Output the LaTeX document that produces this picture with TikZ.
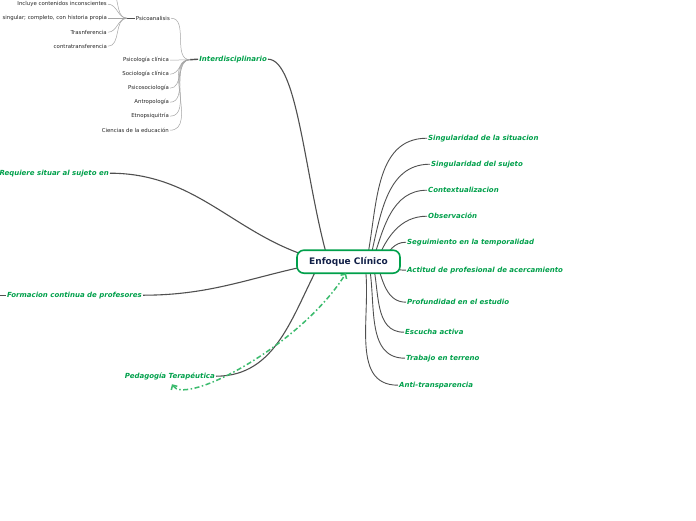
\documentclass[tikz,border=0pt]{standalone}
\usepackage{fontspec}
\setmainfont{DejaVu Sans}
\usetikzlibrary{arrows.meta,calc}
\definecolor{lblgreen}{RGB}{0,160,75}
\definecolor{relgreen}{RGB}{60,187,110}
\definecolor{navy}{RGB}{18,32,72}
\definecolor{mainedge}{RGB}{80,80,80}
\definecolor{subedge}{RGB}{165,165,165}
\pgfdeclarelayer{back}
\pgfdeclarelayer{bg}
\pgfsetlayers{back,bg,main}
\tikzset{
  center/.style={draw=lblgreen, line width=1.6pt, rounded corners=7pt, fill=white,
    minimum width=103pt, minimum height=23pt, inner sep=0pt, text=navy,
    font=\fontsize{9}{11}\selectfont\bfseries},
  mainlbl/.style={inner sep=1pt, text=lblgreen, font=\fontsize{7}{8}\selectfont\bfseries\itshape},
  sublbl/.style={inner sep=1pt, text=black!85, font=\fontsize{5.4}{6.5}\selectfont},
  mainline/.style={draw=mainedge, line width=0.9pt},
  subline/.style={draw=subedge, line width=0.5pt},
  stub/.style={draw=mainedge, line width=1.4pt},
  relline/.style={draw=relgreen, line width=1.5pt, dash pattern=on 5pt off 2.5pt on 1.5pt off 2.5pt,
    {Straight Barb[length=3.5pt,width=7pt]}-{Straight Barb[length=3.5pt,width=7pt]}}
}
\begin{document}
\begin{tikzpicture}[x=1pt,y=1pt]
\begin{pgfonlayer}{back}
\fill[white] (0,1.2) rectangle (696,-518.8);
\end{pgfonlayer}
\useasboundingbox (0,1.2) rectangle (696,-518.8);

% central node
\node[center] (c) at (348.5,-260.5) {Enfoque Clínico};

% right labels
\node[mainlbl, anchor=west] (s1) at (427,-137) {Singularidad de la situacion};
\node[mainlbl, anchor=west] (s2) at (430,-163) {Singularidad del sujeto};
\node[mainlbl, anchor=west] (s3) at (427,-189) {Contextualizacion};
\node[mainlbl, anchor=west] (s4) at (427,-215) {Observación};
\node[mainlbl, anchor=west] (s5) at (406,-241) {Seguimiento en la temporalidad};
\node[mainlbl, anchor=west] (s6) at (406,-269) {Actitud de profesional de acercamiento};
\node[mainlbl, anchor=west] (s7) at (406,-301) {Profundidad en el estudio};
\node[mainlbl, anchor=west] (s8) at (404,-331) {Escucha activa};
\node[mainlbl, anchor=west] (s9) at (405,-357) {Trabajo en terreno};
\node[mainlbl, anchor=west] (s10) at (398,-384) {Anti-transparencia};

% left labels
\node[mainlbl, anchor=east] (inter) at (268,-58) {Interdisciplinario};
\node[mainlbl, anchor=east] (req) at (110,-172) {Requiere situar al sujeto en};
\node[mainlbl, anchor=east] (form) at (143,-294) {Formacion continua de profesores};
\node[mainlbl, anchor=east] (ped) at (216,-375) {Pedagogía Terapéutica};

% interdisciplinario children
\node[sublbl, anchor=east] (psa) at (171,-17) {Psicoanalisis};
\node[sublbl, anchor=east] (i1) at (170,-59) {Psicología clínica};
\node[sublbl, anchor=east] (i2) at (170,-73) {Sociología clínica};
\node[sublbl, anchor=east] (i3) at (170,-87) {Psicosociología};
\node[sublbl, anchor=east] (i4) at (170,-101) {Antropología};
\node[sublbl, anchor=east] (i5) at (170,-115) {Etnopsiquitría};
\node[sublbl, anchor=east] (i6) at (170,-129) {Ciencias de la educación};

% psicoanalisis children
\node[sublbl, anchor=east] (p1) at (108,-3) {Incluye contenidos inconscientes};
\node[sublbl, anchor=east] (p2) at (108,-17) {singular; completo, con historia propia};
\node[sublbl, anchor=east] (p3) at (108,-31) {Trasnferencia};
\node[sublbl, anchor=east] (p4) at (108,-45) {contratransferencia};

\coordinate (m1) at (190,-58.5);
\coordinate (m2) at (127,-17);
\coordinate (ptop) at (108,12);
\coordinate (fleft) at (-6,-294);
\coordinate (rA) at (172,-383);
\coordinate (rB) at (346,-272);

\begin{pgfonlayer}{bg}
% right branches
\draw[mainline] ($(c.center)+(18,0)$) to[out=78,in=180] (s1.west);
\draw[mainline] ($(c.center)+(21,0)$) to[out=76,in=180] (s2.west);
\draw[mainline] ($(c.center)+(24,0)$) to[out=72,in=180] (s3.west);
\draw[mainline] ($(c.center)+(28,0)$) to[out=68,in=180] (s4.west);
\draw[mainline] ($(c.center)+(34,0)$) to[out=60,in=180] (s5.west);
\draw[mainline] ($(c.center)+(34,0)$) to[out=-40,in=180] (s6.west);
\draw[mainline] ($(c.center)+(28,0)$) to[out=-72,in=180] (s7.west);
\draw[mainline] ($(c.center)+(24,0)$) to[out=-76,in=180] (s8.west);
\draw[mainline] ($(c.center)+(20,0)$) to[out=-78,in=180] (s9.west);
\draw[mainline] ($(c.center)+(16,0)$) to[out=-80,in=180] (s10.west);

% left branches
\draw[mainline, line width=1.1pt] (inter.east) .. controls ($(inter.east)+(30,0)$) and (305,-180) .. ($(c.center)+(-20,0)$);
\draw[mainline, line width=1.1pt] (req.east) to[out=0,in=168] ($(c.center)+(-20,0)$);
\draw[mainline, line width=1.1pt] (form.east) to[out=0,in=190] ($(c.center)+(-20,0)$);
\draw[mainline, line width=1.1pt] (ped.east) to[out=0,in=-118] ($(c.center)+(-28,0)$);
\draw[mainline] (form.west) -- (fleft);

% interdisciplinario fan
\draw[stub] (m1) -- (inter.west);
\draw[subline] (psa.east) to[out=0,in=180] (m1);
\foreach \n in {i1,i2,i3,i4,i5,i6}
  \draw[subline] (\n.east) to[out=0,in=180] (m1);

% psicoanalisis fan
\draw[stub] (m2) -- (psa.west);
\foreach \n in {p1,p2,p3,p4}
  \draw[subline] (\n.east) to[out=0,in=180] (m2);
\draw[subline] (ptop) to[out=0,in=180] (m2);
\end{pgfonlayer}

% relationship
\draw[relline] (rA) .. controls (185,-405) and (300,-345) .. (rB);
\end{tikzpicture}
\end{document}
